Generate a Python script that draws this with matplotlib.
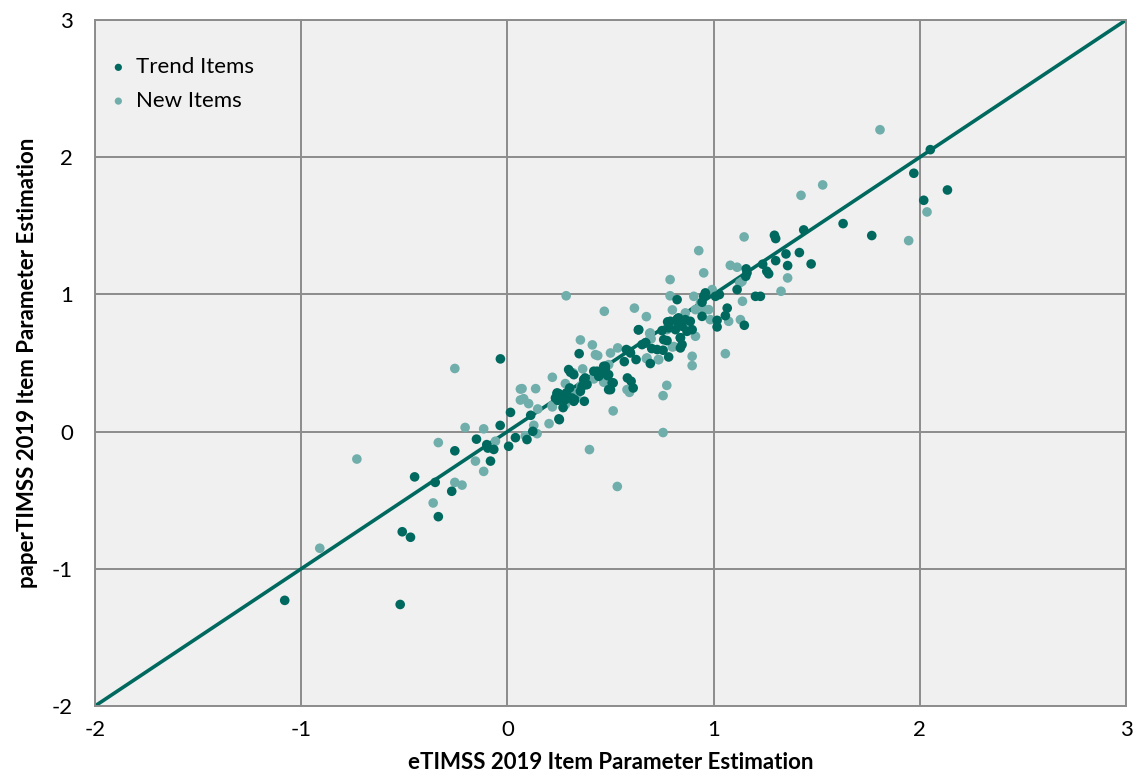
import matplotlib
matplotlib.use("Agg")
import matplotlib.pyplot as plt

# ---- data ----
trend_x = [-1.08, -0.52, -0.51, -0.47, -0.45, -0.335, -0.35, -0.27, -0.255, -0.035,
           -0.15, -0.10, -0.095, -0.066, -0.082, 0.006, 0.039, 0.095, -0.034, 0.015,
           0.823, 0.635, 0.777, 0.823, 0.75, 0.758, 0.774, 0.671, 0.70, 0.726,
           0.755, 0.782, 0.693, 0.624, 0.567, 0.593, 0.348, 0.297, 0.241, 0.377,
           0.383, 0.435, 0.459, 0.475, 0.486, 0.513, 0.491, 0.582, 0.60, 0.61,
           0.113, 0.244, 0.252, 0.302, 0.326, 0.27, 1.295, 1.301, 1.437, 1.351,
           1.416, 1.473, 1.301, 1.359, 1.238, 1.158, 1.162, 1.258, 1.267, 1.156,
           1.114, 1.203, 1.227, 0.96, 0.952, 1.009, 1.028, 0.944, 0.944, 1.017,
           1.017, 1.066, 1.057, 1.149, 0.83, 0.847, 0.887, 0.896, 0.839, 0.847,
           2.051, 1.971, 2.134, 2.019, 1.628, 1.767, 0.306, 0.322, 0.249, 0.281,
           0.313, 0.25, 0.123, 0.419, 0.467, 0.475, 0.443, 0.491, 0.508, 0.50,
           0.37, 0.386, 0.362, 0.354, 0.241, 0.233, 0.322, 0.373, 0.286, 0.863,
           0.83, 0.79, 0.637, 0.782, 0.815, 0.847, 0.871, 0.839, 0.669, 0.653,
           0.839, 0.577, 0.597]
trend_y = [-1.23, -1.26, -0.73, -0.77, -0.33, -0.62, -0.37, -0.435, -0.14, 0.045,
           -0.055, -0.095, -0.12, -0.13, -0.215, -0.107, -0.044, -0.058, 0.53, 0.14,
           0.962, 0.741, 0.80, 0.82, 0.736, 0.67, 0.663, 0.647, 0.605, 0.598,
           0.593, 0.544, 0.496, 0.525, 0.51, 0.585, 0.568, 0.452, 0.275, 0.391,
           0.343, 0.44, 0.428, 0.476, 0.408, 0.355, 0.306, 0.391, 0.367, 0.318,
           0.119, 0.228, 0.087, 0.318, 0.233, 0.175, 1.431, 1.407, 1.47, 1.295,
           1.305, 1.222, 1.246, 1.21, 1.22, 1.186, 1.157, 1.169, 1.15, 1.132,
           1.035, 0.986, 0.986, 1.011, 0.986, 0.986, 0.999, 0.943, 0.84, 0.811,
           0.763, 0.90, 0.845, 0.775, 0.829, 0.804, 0.804, 0.743, 0.684, 0.634,
           2.055, 1.883, 1.761, 1.686, 1.516, 1.429, 0.432, 0.415, 0.277, 0.233,
           0.245, 0.093, 0.002, 0.44, 0.476, 0.452, 0.403, 0.415, 0.355, 0.306,
           0.379, 0.343, 0.33, 0.294, 0.282, 0.245, 0.221, 0.221, 0.282, 0.816,
           0.792, 0.804, 0.743, 0.756, 0.743, 0.768, 0.731, 0.684, 0.647, 0.634,
           0.61, 0.598, 0.573]

new_x = [-0.73, -0.91, -0.36, -0.255, -0.22, -0.335, -0.205, -0.115, -0.155, -0.115,
         -0.058, 0.087, -0.255, 0.063, 0.063, 0.285, 0.789, 0.789, 0.47, 0.616,
         0.674, 0.80, 0.69, 0.774, 0.807, 0.697, 0.80, 0.732, 0.674, 0.535,
         0.50, 0.354, 0.412, 0.427, 0.438, 0.365, 0.319, 0.218, 0.419, 0.491,
         0.47, 0.58, 0.592, 0.513, 0.773, 0.755, 0.755, 0.398, 0.071, 0.137,
         0.079, 0.103, 0.147, 0.218, 0.202, 0.128, 0.144, 0.292, 0.338, 0.281,
         1.148, 0.928, 0.952, 1.081, 1.114, 1.359, 1.138, 1.127, 1.327, 1.14,
         0.904, 0.993, 0.936, 0.955, 0.976, 0.912, 0.863, 0.984, 1.073, 1.13,
         1.057, 0.896, 0.896, 0.863, 0.912, 0.807, 1.807, 2.035, 1.529, 1.424,
         1.946, 0.281, 0.29, 0.533, 0.419, 0.467, 0.357, 0.33, 0.29, 0.281,
         0.217, 0.693, 0.693, 0.677, 0.734]
new_y = [-0.20, -0.85, -0.52, -0.37, -0.39, -0.08, 0.03, 0.02, -0.215, -0.29,
         -0.07, -0.03, 0.46, 0.31, 0.23, 0.99, 1.108, 0.99, 0.877, 0.90,
         0.838, 0.887, 0.716, 0.743, 0.756, 0.676, 0.617, 0.525, 0.532, 0.61,
         0.573, 0.668, 0.632, 0.561, 0.554, 0.457, 0.428, 0.396, 0.391, 0.488,
         0.367, 0.306, 0.286, 0.151, 0.337, 0.262, -0.007, -0.131, 0.313, 0.313,
         0.24, 0.204, 0.165, 0.18, 0.058, 0.046, -0.015, 0.27, 0.27, 0.209,
         1.419, 1.319, 1.157, 1.212, 1.198, 1.12, 1.095, 1.084, 1.023, 0.95,
         0.986, 1.035, 0.938, 0.889, 0.889, 0.889, 0.865, 0.816, 0.804, 0.816,
         0.568, 0.549, 0.481, 0.768, 0.695, 0.62, 2.20, 1.601, 1.798, 1.722,
         1.392, 0.35, 0.282, -0.40, 0.384, 0.36, 0.335, 0.282, 0.257, 0.197,
         0.19, 0.719, 0.683, 0.537, 0.525]

x_ticks = [-2, -1, 0, 1, 2, 3]
y_ticks = [-2, -1, 0, 1, 2, 3]
x_label = "eTIMSS 2019 Item Parameter Estimation"
y_label = "paperTIMSS 2019 Item Parameter Estimation"
series_names = ["Trend Items", "New Items"]

dark = "#00695F"
light = "#6FAEAB"
grid_c = "#8C8C8C"

plt.rcParams['font.family'] = ['Lato', 'DejaVu Sans']

fig = plt.figure(figsize=(11.37, 7.76), dpi=100)
ax = fig.add_axes([95/1137, 70/776, 1031/1137, 686/776])
ax.set_facecolor("#F0F0F0")

ax.set_xlim(-2, 3)
ax.set_ylim(-2, 3)
ax.set_xticks(x_ticks)
ax.set_yticks(y_ticks)
ax.set_xticklabels([str(t) for t in x_ticks], fontsize=16)
ax.set_yticklabels([str(t) for t in y_ticks], fontsize=16)
ax.tick_params(axis='x', length=0, pad=10)
ax.tick_params(axis='y', length=0, pad=16)
ax.grid(True, color=grid_c, linewidth=1.4)
ax.set_axisbelow(True)
for s in ax.spines.values():
    s.set_color(grid_c)
    s.set_linewidth(1.4)

ax.plot([-2, 3], [-2, 3], color=dark, linewidth=2.6, zorder=2)
ax.scatter(new_x, new_y, s=48, color=light, edgecolors='none', zorder=3, label=series_names[1])
ax.scatter(trend_x, trend_y, s=48, color=dark, edgecolors='none', zorder=4, label=series_names[0])

h, l = ax.get_legend_handles_labels()
leg = ax.legend(h[::-1], l[::-1], loc='upper left', bbox_to_anchor=(-0.014, 0.975),
                frameon=False, fontsize=16, handletextpad=0.0, markerscale=0.75,
                labelspacing=0.62, borderaxespad=0.5, handlelength=1.6)

ax.set_xlabel(x_label, fontsize=16, fontweight='bold', labelpad=9)
ax.set_ylabel(y_label, fontsize=16, fontweight='bold', labelpad=10)

fig.savefig("out.png", dpi=100)
